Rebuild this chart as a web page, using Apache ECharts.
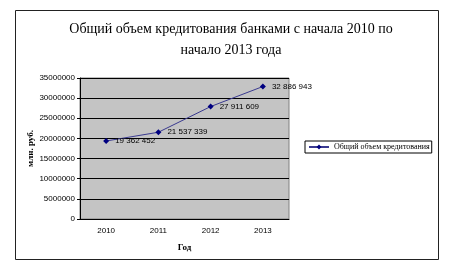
<!DOCTYPE html>
<html>
<head>
<meta charset="utf-8">
<script src="https://cdn.jsdelivr.net/npm/echarts@6/dist/echarts.min.js"></script>
<style>
  html, body { margin: 0; padding: 0; background: #fff; }
  #chart { width: 453px; height: 276px; }
</style>
</head>
<body>
<div id="chart"></div>
<script>
// данные графика
const years = ['2010', '2011', '2012', '2013']
const credit = [19362452, 21537339, 27911609, 32886943]
const seriesName = 'Общий объем кредитования'

const fmt = (v) => String(v).replace(/\B(?=(\d{3})+(?!\d))/g, ' ')

const chart = echarts.init(document.getElementById('chart'))
chart.setOption({
  animation: false,
  title: {
    text: 'Общий объем кредитования банками с начала 2010 по\nначало 2013 года',
    left: 226,
    top: 14,
    textAlign: 'center',
    textStyle: {
      fontFamily: 'Liberation Serif',
      fontSize: 14,
      fontWeight: 'normal',
      color: '#000',
      lineHeight: 21,
    },
  },
  graphic: [
    {
      type: 'rect',
      shape: { x: 15.5, y: 10.5, width: 423, height: 249 },
      style: { fill: 'none', stroke: '#222', lineWidth: 1 },
      z: -1,
    },
  ],
  legend: {
    left: 305,
    top: 141,
    orient: 'vertical',
    itemWidth: 20,
    itemHeight: 6,
    itemGap: 0,
    padding: [2, 2, 2, 3],
    borderColor: '#000',
    borderWidth: 1,
    textStyle: { fontFamily: 'Liberation Serif', fontSize: 8, color: '#000' },
    data: [seriesName],
  },
  grid: {
    left: 80,
    top: 78,
    width: 209,
    height: 141,
    show: true,
    backgroundColor: '#c4c4c4',
    borderColor: '#808080',
    borderWidth: 1,
  },
  xAxis: {
    type: 'category',
    data: years,
    name: 'Год',
    nameLocation: 'middle',
    nameGap: 24,
    nameTextStyle: { fontFamily: 'Liberation Serif', fontWeight: 'bold', fontSize: 9, color: '#000' },
    axisLine: { lineStyle: { color: '#000' } },
    axisTick: { length: 3, lineStyle: { color: '#000' } },
    axisLabel: { fontFamily: 'Liberation Sans', fontSize: 8, color: '#000', margin: 8 },
  },
  yAxis: {
    type: 'value',
    min: 0,
    max: 35000000,
    interval: 5000000,
    name: 'млн. руб.',
    nameLocation: 'middle',
    nameGap: 43,
    nameTextStyle: { fontFamily: 'Liberation Serif', fontWeight: 'bold', fontSize: 9, color: '#000' },
    axisLine: { show: true, lineStyle: { color: '#000' } },
    axisTick: { show: true, length: 3, lineStyle: { color: '#000' } },
    axisLabel: {
      fontFamily: 'Liberation Sans',
      fontSize: 8,
      color: '#000',
      margin: 5,
      formatter: (v) => String(v),
    },
    splitLine: { lineStyle: { color: '#000', width: 1 } },
  },
  series: [
    {
      name: seriesName,
      type: 'line',
      data: credit,
      symbol: 'diamond',
      symbolSize: 6,
      color: '#000080',
      lineStyle: { color: '#3a3a90', width: 1 },
      itemStyle: { color: '#000080' },
      label: {
        show: true,
        position: 'right',
        distance: 6,
        formatter: (p) => fmt(p.value),
        fontFamily: 'Liberation Sans',
        fontSize: 8,
        color: '#000',
      },
    },
  ],
})
</script>
</body>
</html>
